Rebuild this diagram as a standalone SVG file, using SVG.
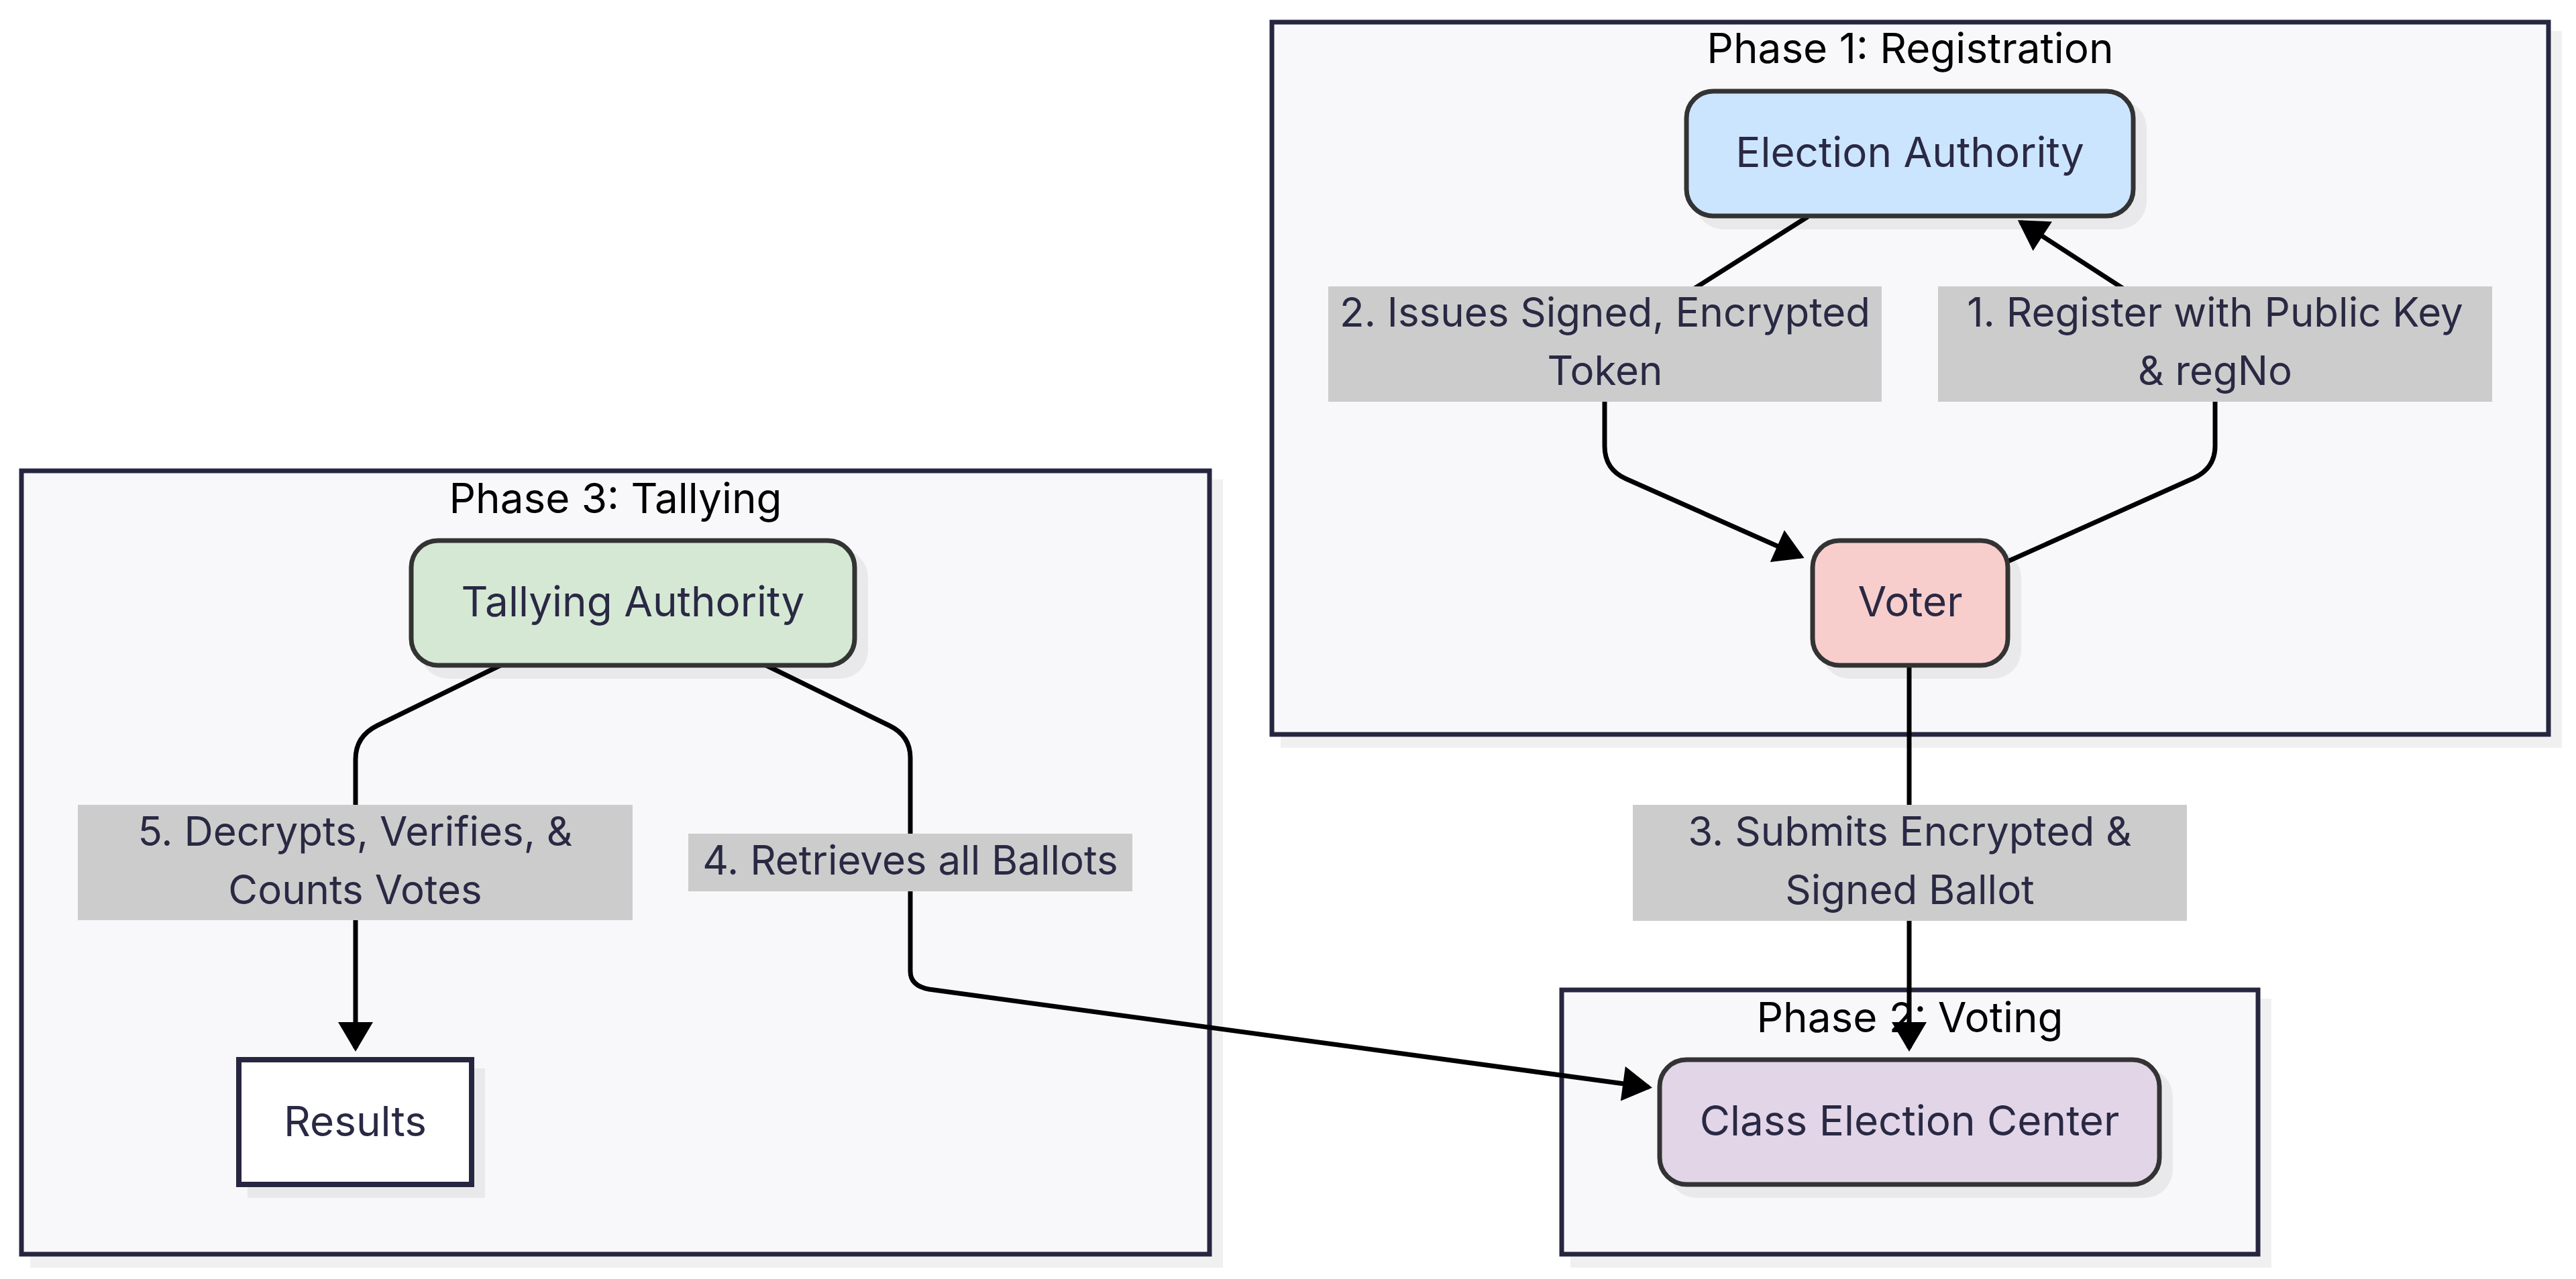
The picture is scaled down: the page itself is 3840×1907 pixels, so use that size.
<svg xmlns="http://www.w3.org/2000/svg" width="3840" height="1907" viewBox="0 0 3840 1907">
<style>
.bg{fill:#f8f8fa;stroke:#272640;stroke-width:7}
.shadow{fill:#000;fill-opacity:0.06}
.node rect.box{stroke:#333333;stroke-width:7}
.t{font-family:Inter,"Noto Sans","Liberation Sans",sans-serif;font-size:60px;fill:#2a2944;text-anchor:middle}
.n{font-size:62px}
.title{fill:#000000;font-size:62px}
.edge{fill:none;stroke:#000000;stroke-width:7;stroke-linejoin:round}
.lbl rect{fill:#cccccc}
</style>
<defs>
<marker id="arr" markerUnits="userSpaceOnUse" markerWidth="44" markerHeight="52" refX="39" refY="26" orient="auto" overflow="visible">
<path d="M0,0 L44,26 L0,52 z" fill="#000000"/>
</marker>
</defs>
<rect width="3840" height="1907" fill="#ffffff"/>
<g id="clusters">
<g id="phase1">
<rect class="shadow" x="1909" y="46" width="1910" height="1069"/>
<rect class="bg" x="1896" y="33" width="1903" height="1062"/>
<text class="t title" x="2847.5" y="94">Phase 1: Registration</text>
</g>
<g id="phase3">
<rect class="shadow" x="45" y="715" width="1778" height="1175"/>
<rect class="bg" x="32" y="702" width="1771" height="1168"/>
<text class="t title" x="917.5" y="765">Phase 3: Tallying</text>
</g>
<g id="phase2">
<rect class="shadow" x="2341" y="1489" width="1045" height="401"/>
<rect class="bg" x="2328" y="1476" width="1038" height="394"/>
<text class="t title" x="2847" y="1539">Phase 2: Voting</text>
</g>
</g>
<g id="connectors">
<path class="edge" marker-end="url(#arr)" d="M2695,323 L2420,497 Q2392,515 2392,548 L2392,665 Q2392,700 2424,714 L2685,830"/>
<path class="edge" marker-end="url(#arr)" d="M2993,837 L3270,713 Q3302,698 3302,665 L3302,540 Q3302,518 3282,506 L3012,331"/>
<path class="edge" marker-end="url(#arr)" d="M2846,992 L2846,1563"/>
<path class="edge" marker-end="url(#arr)" d="M746,992 L562,1082 Q530,1098 530,1132 L530,1563"/>
<path class="edge" marker-end="url(#arr)" d="M1142,992 L1326,1082 Q1357,1097 1357,1130 L1357,1448 Q1357,1470 1385,1475 L2458,1621"/>
</g>
<g id="edge-labels">
<g class="lbl" id="label2">
<rect x="1980" y="427" width="825" height="172"/>
<text class="t" x="2392.5" y="487">2. Issues Signed, Encrypted</text>
<text class="t" x="2392.5" y="574">Token</text>
</g>
<g class="lbl" id="label1">
<rect x="2889" y="427" width="826" height="172"/>
<text class="t" x="3302" y="487">1. Register with Public Key</text>
<text class="t" x="3302" y="574">&amp; regNo</text>
</g>
<g class="lbl" id="label3">
<rect x="2434" y="1200" width="826" height="173"/>
<text class="t" x="2847" y="1261">3. Submits Encrypted &amp;</text>
<text class="t" x="2847" y="1348">Signed Ballot</text>
</g>
<g class="lbl" id="label5">
<rect x="116" y="1200" width="827" height="172"/>
<text class="t" x="529.5" y="1261">5. Decrypts, Verifies, &amp;</text>
<text class="t" x="529.5" y="1348">Counts Votes</text>
</g>
<g class="lbl" id="label4">
<rect x="1026" y="1243" width="662" height="86"/>
<text class="t" x="1357" y="1304">4. Retrieves all Ballots</text>
</g>
</g>
<g id="node-election-authority" class="node">
<rect class="shadow" x="2527" y="149" width="673" height="193" rx="42"/>
<rect class="box" x="2514" y="136" width="666" height="186" rx="40" fill="#cce5ff"/>
<text class="t n" x="2847" y="249">Election Authority</text>
</g>
<g id="node-voter" class="node">
<rect class="shadow" x="2715" y="819" width="298" height="193" rx="42"/>
<rect class="box" x="2702" y="806" width="291" height="186" rx="40" fill="#f8cecc"/>
<text class="t n" x="2847.5" y="919">Voter</text>
</g>
<g id="node-tallying-authority" class="node">
<rect class="shadow" x="626" y="819" width="668" height="193" rx="42"/>
<rect class="box" x="613" y="806" width="661" height="186" rx="40" fill="#d5e8d4"/>
<text class="t n" x="943.5" y="919">Tallying Authority</text>
</g>
<g id="node-results" class="node">
<rect class="shadow" x="369" y="1593" width="354" height="193"/>
<rect x="356" y="1580" width="347" height="186" fill="#ffffff" stroke="#272640" stroke-width="8"/>
<text class="t n" x="529.5" y="1694">Results</text>
</g>
<g id="node-class-election-center" class="node">
<rect class="shadow" x="2487" y="1593" width="752" height="193" rx="42"/>
<rect class="box" x="2474" y="1580" width="745" height="186" rx="40" fill="#e1d5e7"/>
<text class="t n" x="2846.5" y="1693">Class Election Center</text>
</g>
</svg>
